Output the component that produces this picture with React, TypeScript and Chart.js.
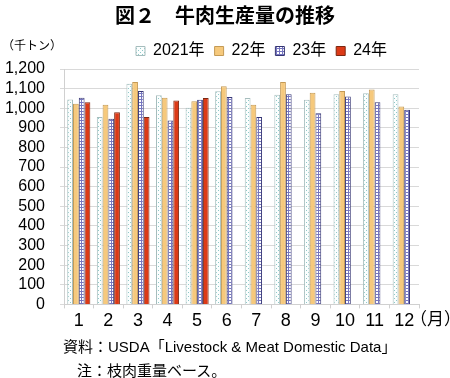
import React, { useEffect, useRef } from "react";
import { Chart, registerables } from "chart.js";

Chart.register(...registerables);

const months = ["1", "2", "3", "4", "5", "6", "7", "8", "9", "10", "11", "12"];
const seriesNames = ["2021年", "22年", "23年", "24年"];
const y2021 = [1045, 955, 1125, 1066, 1003, 1086, 1052, 1069, 1043, 1071, 1077, 1071];
const y2022 = [1023, 1018, 1134, 1054, 1035, 1112, 1018, 1134, 1079, 1088, 1096, 1009];
const y2023 = [1054, 946, 1088, 938, 1043, 1057, 955, 1071, 975, 1060, 1031, 992];
const y2024 = [1031, 980, 955, 1040, 1052, null, null, null, null, null, null, null];

const FONT = '"Liberation Sans", Arial, "Noto Sans CJK JP", sans-serif';

function makePattern(size: number, draw: (c: CanvasRenderingContext2D) => void) {
  const cv = document.createElement("canvas");
  cv.width = size;
  cv.height = size;
  const c = cv.getContext("2d")!;
  draw(c);
  return c.createPattern(cv, "repeat")!;
}

export default function App() {
  const ref = useRef<HTMLCanvasElement | null>(null);

  useEffect(() => {
    const canvas = ref.current!;
    const dotPat = makePattern(4, (c) => {
      c.fillStyle = "#fbfefe";
      c.fillRect(0, 0, 4, 4);
      c.fillStyle = "#8fc9c8";
      c.fillRect(0, 0, 1, 1);
      c.fillRect(2, 2, 1, 1);
    });
    const gridPat = makePattern(3, (c) => {
      c.fillStyle = "#ffffff";
      c.fillRect(0, 0, 3, 3);
      c.fillStyle = "#7676c0";
      c.fillRect(0, 0, 3, 1);
      c.fillRect(0, 0, 1, 3);
    });

    const legendShift = {
      id: "legendShift",
      afterLayout(chart: any) {
        const lg = chart.legend;
        if (lg) {
          const shift = 52;
          lg.left += shift;
          lg.right += shift;
        }
      },
    };

    const chart = new Chart(canvas, {
      type: "bar",
      data: {
        labels: months,
        datasets: [
          { label: seriesNames[0], data: y2021, backgroundColor: dotPat as any, borderColor: "#a6bdbd", borderWidth: 1 },
          { label: seriesNames[1], data: y2022, backgroundColor: "#f6c97c", borderColor: "#c49a55", borderWidth: 1 },
          { label: seriesNames[2], data: y2023, backgroundColor: gridPat as any, borderColor: "#363674", borderWidth: 1 },
          { label: seriesNames[3], data: y2024, backgroundColor: "#dc3a17", borderColor: "#7c2812", borderWidth: 1 },
        ],
      },
      options: {
        responsive: false,
        animation: false,
        datasets: { bar: { categoryPercentage: 0.78, barPercentage: 1 } },
        layout: { padding: { top: 33, left: 0, right: 31, bottom: 44 } },
        plugins: {
          tooltip: { enabled: false },
          legend: {
            position: "top",
            align: "center",
            labels: {
              boxWidth: 9,
              boxHeight: 9,
              padding: 10,
              color: "#000",
              font: { family: FONT, size: 16 },
            },
          },
        },
        scales: {
          x: {
            grid: {
              offset: true,
              drawOnChartArea: false,
              drawTicks: true,
              tickLength: 4,
              color: "#d0d0d0",
            },
            border: { color: "#d0d0d0" },
            ticks: { color: "#000", padding: 2, font: { family: FONT, size: 18 } },
          },
          y: {
            min: 0,
            max: 1200,
            ticks: {
              stepSize: 100,
              autoSkip: false,
              color: "#000",
              padding: 15,
              font: { family: FONT, size: 16 },
              callback: (v: any) => Number(v).toLocaleString("en-US"),
            },
            grid: { color: "#d9d9d9", tickLength: 4 },
            border: { color: "#d0d0d0" },
            afterFit: (s: any) => {
              s.width = 64;
            },
          },
        },
      },
      plugins: [legendShift],
    });
    return () => chart.destroy();
  }, []);

  const txt = (extra: React.CSSProperties): React.CSSProperties => ({
    position: "absolute",
    whiteSpace: "nowrap",
    fontFamily: FONT,
    color: "#000",
    ...extra,
  });

  return (
    <div style={{ position: "absolute", left: 0, top: 0, width: 450, height: 378, background: "#fff", overflow: "hidden" }}>
      <canvas ref={ref} width={450} height={378} style={{ position: "absolute", left: 0, top: 0, width: 450, height: 378 }} />
      <div style={txt({ left: 0, width: 450, top: 4, textAlign: "center", fontSize: 20, fontWeight: "bold", lineHeight: "24px" })}>
        図２　牛肉生産量の推移
      </div>
      <div style={txt({ left: 2, top: 38, fontSize: 12, lineHeight: "16px" })}>（千トン）</div>
      <div style={txt({ left: 410, top: 309, fontSize: 17, lineHeight: "22px" })}>（月）</div>
      <div style={txt({ left: 63, top: 337, fontSize: 15, lineHeight: "20px" })}>
        資料：USDA「Livestock &amp; Meat Domestic Data」
      </div>
      <div style={txt({ left: 77, top: 361, fontSize: 15, lineHeight: "20px" })}>注：枝肉重量ベース。</div>
    </div>
  );
}
